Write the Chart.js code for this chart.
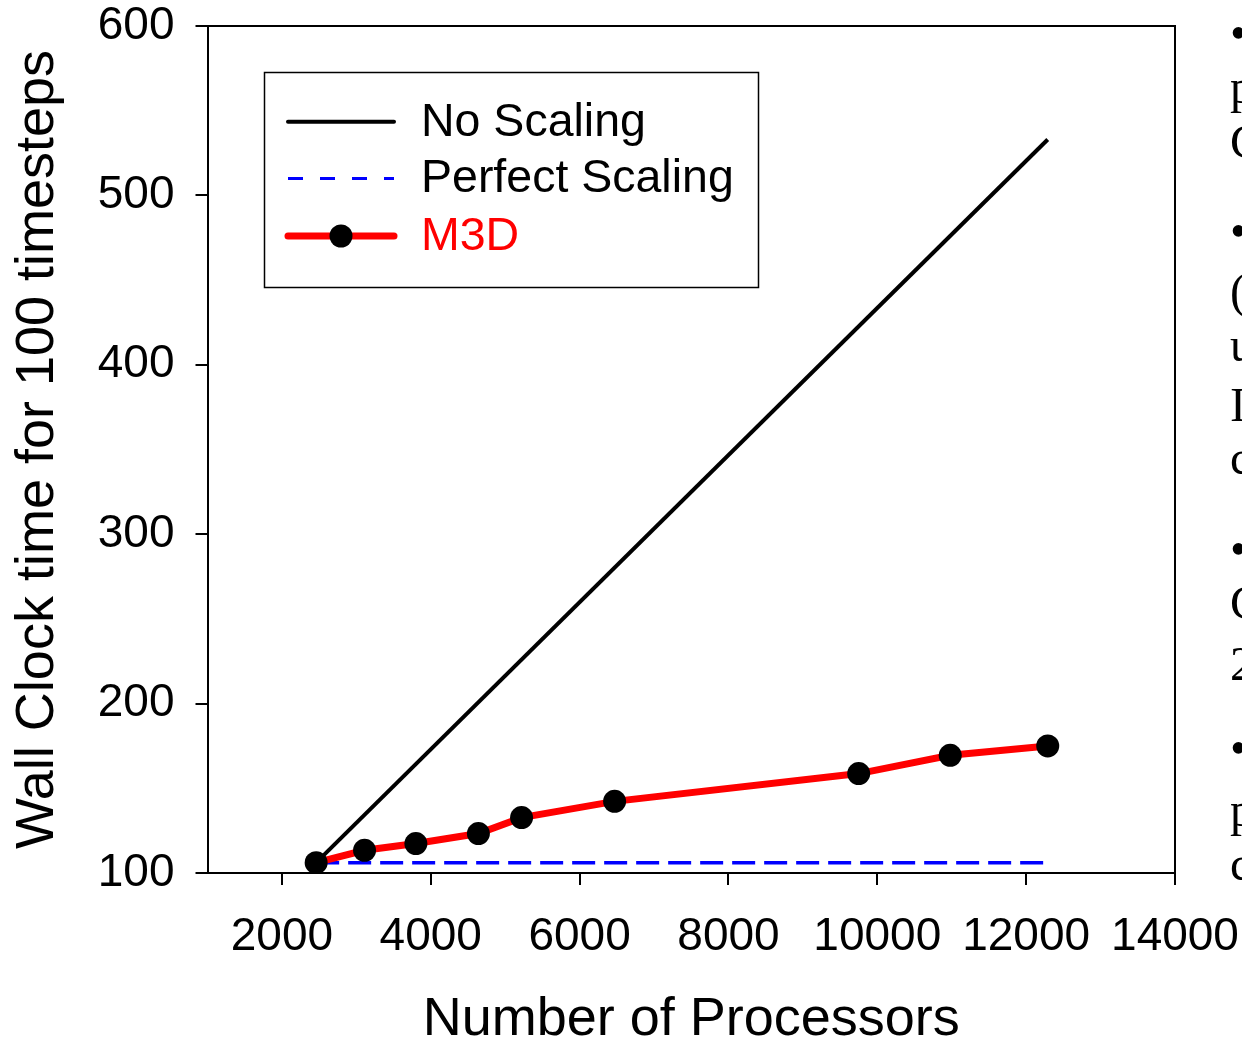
<!DOCTYPE html>
<html>
<head>
<meta charset="utf-8">
<script src="https://cdn.jsdelivr.net/npm/chart.js@4.4.1/dist/chart.umd.min.js"></script>
<style>
  html, body { margin: 0; padding: 0; background: #fff; overflow: hidden; width: 1242px; height: 1044px; }
  #wrap { position: absolute; left: 0; top: 0; width: 1242px; height: 1044px; }
  .side { position: absolute; left: 1230px; font-family: "Liberation Serif", "Times New Roman", serif; font-size: 48px; line-height: 48px; color: #000; white-space: nowrap; }
</style>
</head>
<body>
<div id="wrap"><canvas id="c" width="1242" height="1044"></canvas></div>
<div id="sideText"></div>
<script>
// ---- data ----
const processors = [2460, 3110, 3800, 4640, 5220, 6470, 9750, 10980, 12290];
const m3dTime = [106.1, 113.4, 117.4, 123.3, 132.7, 142.3, 158.7, 169.5, 175.0];
const noScalingX = [2460, 12290];
const noScalingTime = [106.1, 533];
const perfectX = [2460, 12290];
const perfectTime = [106.1, 106.1];
const xTicks = [2000, 4000, 6000, 8000, 10000, 12000, 14000];
const yTicks = [100, 200, 300, 400, 500, 600];
const seriesLabels = ["No Scaling", "Perfect Scaling", "M3D"];
const xTitle = "Number of Processors";
const yTitle = "Wall Clock time for 100 timesteps";
// cropped slide text to the right of the chart (first visible characters of each line)
const sideLines = ["•", "p", "C", "•", "(", "u", "I", "c", "•", "C", "2", "•", "p", "c"];
const sideBaselines = [49, 103, 158, 247, 307, 361, 421, 474, 565, 619, 680, 764, 826, 880];

// side text
const side = document.getElementById('sideText');
sideLines.forEach((t, i) => {
  const d = document.createElement('div');
  d.className = 'side';
  d.textContent = t;
  d.style.top = (sideBaselines[i] - 40) + 'px';
  side.appendChild(d);
});

const pts = (xs, ys) => xs.map((x, i) => ({ x: x, y: ys[i] }));
const SANS = '"Liberation Sans", Arial, sans-serif';

const framePlugin = {
  id: 'frame',
  afterDatasetsDraw(chart) {
    const { ctx, chartArea: a } = chart;
    ctx.save();
    ctx.strokeStyle = '#000';
    ctx.lineWidth = 2;
    ctx.beginPath();
    ctx.moveTo(a.left, a.top);
    ctx.lineTo(a.right, a.top);
    ctx.lineTo(a.right, a.bottom);
    ctx.stroke();
    ctx.restore();
  }
};

const legendPlugin = {
  id: 'boxLegend',
  afterDraw(chart) {
    const ctx = chart.ctx;
    ctx.save();
    ctx.fillStyle = '#fff';
    ctx.fillRect(264.5, 72.5, 494, 215);
    ctx.strokeStyle = '#000';
    ctx.lineWidth = 1.5;
    ctx.strokeRect(264.5, 72.5, 494, 215);
    const rows = [121.7, 178.5, 236];
    [0, 1, 2].forEach((di, r) => {
      const ds = chart.data.datasets[di];
      const y = rows[r];
      ctx.save();
      ctx.strokeStyle = ds.borderColor;
      ctx.lineWidth = ds.legendWidth;
      ctx.lineCap = 'round';
      if (ds.borderDash && ds.borderDash.length) { ctx.setLineDash([15, 17]); ctx.lineCap = 'butt'; }
      ctx.beginPath();
      ctx.moveTo(288, y);
      ctx.lineTo(394, y);
      ctx.stroke();
      ctx.restore();
      if (ds.pointRadius > 0) {
        ctx.fillStyle = ds.pointBackgroundColor;
        ctx.beginPath();
        ctx.arc(341, y, 11.5, 0, Math.PI * 2);
        ctx.fill();
      }
      ctx.fillStyle = ds.legendTextColor;
      ctx.font = '46.5px ' + SANS;
      ctx.textBaseline = 'middle';
      ctx.textAlign = 'left';
      ctx.fillText(ds.label, 421, y + 1);
    });
    ctx.restore();
  }
};

new Chart(document.getElementById('c'), {
  type: 'line',
  data: {
    datasets: [
      {
        label: seriesLabels[0],
        data: pts(noScalingX, noScalingTime),
        borderColor: '#000',
        borderWidth: 4,
        pointRadius: 0,
        legendWidth: 4,
        legendTextColor: '#000',
        order: 2
      },
      {
        label: seriesLabels[1],
        data: pts(perfectX, perfectTime),
        borderColor: '#0000ff',
        borderWidth: 3.5,
        borderDash: [23, 9],
        pointRadius: 0,
        legendWidth: 3,
        legendTextColor: '#000',
        order: 3
      },
      {
        label: seriesLabels[2],
        data: pts(processors, m3dTime),
        borderColor: '#ff0000',
        borderWidth: 7,
        pointRadius: 11.5,
        pointBackgroundColor: '#000',
        pointBorderWidth: 0,
        legendWidth: 7,
        legendTextColor: '#ff0000',
        order: 1
      }
    ]
  },
  options: {
    responsive: false,
    animation: false,
    devicePixelRatio: 1,
    layout: { padding: { top: 26, right: 67, left: 0, bottom: 0 } },
    plugins: { legend: { display: false }, tooltip: { enabled: false } },
    elements: { line: { tension: 0 } },
    scales: {
      x: {
        type: 'linear',
        min: 1000,
        max: 14000,
        afterBuildTicks: s => { s.ticks = xTicks.map(v => ({ value: v })); },
        afterFit: s => { s.height = 1044 - 873; s.paddingLeft = 0; s.paddingRight = 0; },
        grid: { drawOnChartArea: false, drawTicks: true, tickLength: 12, color: '#000', lineWidth: 2 },
        border: { display: true, color: '#000', width: 2 },
        ticks: { color: '#000', font: { family: SANS, size: 46 }, padding: 25, maxRotation: 0, autoSkip: false, callback: v => String(v) },
        title: { display: true, text: xTitle, color: '#000', font: { family: SANS, size: 54, lineHeight: 0.9 }, padding: { top: 0, bottom: 0 } }
      },
      y: {
        type: 'linear',
        min: 100,
        max: 600,
        afterBuildTicks: s => { s.ticks = yTicks.map(v => ({ value: v })); },
        afterFit: s => { s.width = 207.5; s.paddingTop = 0; s.paddingBottom = 0; },
        grid: { drawOnChartArea: false, drawTicks: true, tickLength: 12, color: '#000', lineWidth: 2 },
        border: { display: true, color: '#000', width: 2 },
        ticks: { color: '#000', font: { family: SANS, size: 46 }, padding: 21, autoSkip: false, callback: v => String(v) },
        title: { display: true, text: yTitle, color: '#000', font: { family: SANS, size: 54 }, padding: { top: 6, bottom: 0 } }
      }
    }
  },
  plugins: [framePlugin, legendPlugin]
});
</script>
</body>
</html>
